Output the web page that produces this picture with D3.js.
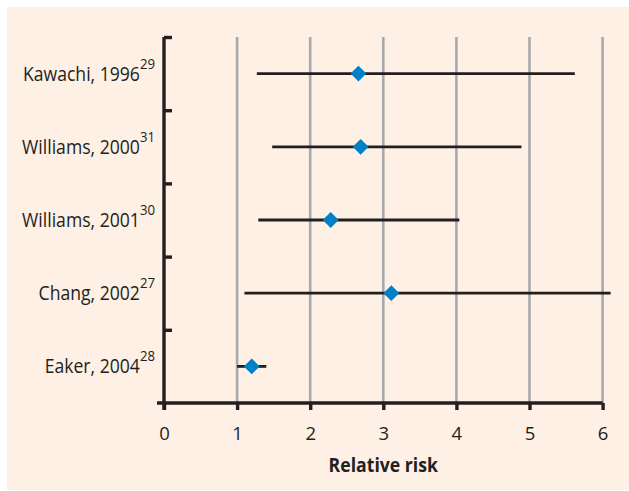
<!DOCTYPE html>
<html>
<head>
<meta charset="utf-8">
<script src="https://cdn.jsdelivr.net/npm/d3@7"></script>
<style>
  body { margin: 0; background: #fff; }
  svg { display: block; }
  .lab { font-family: "Open Sans", sans-serif; fill: #231f20; }
</style>
</head>
<body>
<div id="chart"></div>
<script>
// data
const studies = ["Kawachi, 1996", "Williams, 2000", "Williams, 2001", "Chang, 2002", "Eaker, 2004"];
const refs = ["29", "31", "30", "27", "28"];
const rr = [2.66, 2.69, 2.28, 3.11, 1.20];
const lower = [1.27, 1.48, 1.29, 1.10, 1.00];
const upper = [5.62, 4.89, 4.04, 6.11, 1.40];
const xTicks = [0, 1, 2, 3, 4, 5, 6];

const width = 629, height = 491;
const margin = { top: 37, left: 164, right: 26, bottom: 88 };
const ink = "#231f20";
const squeeze = 0.88; // label font is narrower in the original

const svg = d3.select("#chart").append("svg")
  .attr("width", width).attr("height", height);

// panel
svg.append("rect").attr("x", 7).attr("y", 7)
  .attr("width", width - 7).attr("height", 483)
  .attr("fill", "#fef0e4");

const x = d3.scaleLinear().domain([0, 6])
  .range([margin.left, margin.left + 6 * 73.1]);
const y = d3.scaleBand().domain(studies)
  .range([margin.top, height - margin.bottom]);
const yEdge = d3.scaleLinear().domain([0, studies.length])
  .range([margin.top, height - margin.bottom]);
const y0 = height - margin.bottom;

// grid
svg.append("g").selectAll("line").data(xTicks.slice(1)).join("line")
  .attr("x1", d => x(d)).attr("x2", d => x(d))
  .attr("y1", margin.top).attr("y2", y0)
  .attr("stroke", "#a7a9ac").attr("stroke-width", 2.6);

// x axis
const xAxis = svg.append("g")
  .attr("transform", `translate(0,${y0})`)
  .call(d3.axisBottom(x).tickValues(xTicks).tickFormat(d3.format("d"))
    .tickSize(7).tickSizeOuter(0).tickPadding(17));
xAxis.select(".domain").attr("d", `M${x(0) - 7},0H${x(6)}`)
  .attr("stroke", ink).style("stroke-width", 3.4);
xAxis.selectAll(".tick line").attr("stroke", ink).style("stroke-width", 3.4);
xAxis.selectAll(".tick text").attr("class", "lab").attr("font-size", 18.5);

// y axis
const yAxis = svg.append("g")
  .attr("transform", `translate(${margin.left},0)`)
  .call(d3.axisRight(yEdge).ticks(studies.length).tickSize(8).tickSizeOuter(0).tickFormat(""));
yAxis.select(".domain").attr("d", `M0,${margin.top}V${y0 + 7}`)
  .attr("stroke", ink).style("stroke-width", 3.4);
yAxis.selectAll(".tick line").attr("stroke", ink).style("stroke-width", 3.4);
yAxis.selectAll(".tick").filter(d => d === studies.length).remove();

// study labels
const labels = svg.append("g").selectAll("text").data(studies).join("text")
  .attr("class", "lab")
  .attr("transform", d => `translate(155,${y(d) + y.bandwidth() / 2 + 7}) scale(${squeeze},1)`)
  .attr("text-anchor", "end")
  .attr("font-size", 20);
labels.append("tspan").text(d => d);
labels.append("tspan").attr("dy", -12).attr("font-size", 15)
  .text((d, i) => refs[i]);

// confidence intervals
svg.append("g").selectAll("line").data(studies).join("line")
  .attr("x1", (d, i) => x(lower[i])).attr("x2", (d, i) => x(upper[i]))
  .attr("y1", d => y(d) + y.bandwidth() / 2)
  .attr("y2", d => y(d) + y.bandwidth() / 2)
  .attr("stroke", ink).attr("stroke-width", 2.8);

// point estimates
svg.append("g").selectAll("path").data(studies).join("path")
  .attr("transform", (d, i) => `translate(${x(rr[i])},${y(d) + y.bandwidth() / 2})`)
  .attr("d", d3.symbol(d3.symbolDiamond2, 160))
  .attr("fill", "#0080c6");

// axis title
svg.append("text").attr("class", "lab")
  .attr("transform", `translate(${(x(0) + x(6)) / 2},472) scale(0.93,1)`)
  .attr("text-anchor", "middle")
  .attr("font-size", 19).attr("font-weight", "bold")
  .text("Relative risk");
</script>
</body>
</html>
